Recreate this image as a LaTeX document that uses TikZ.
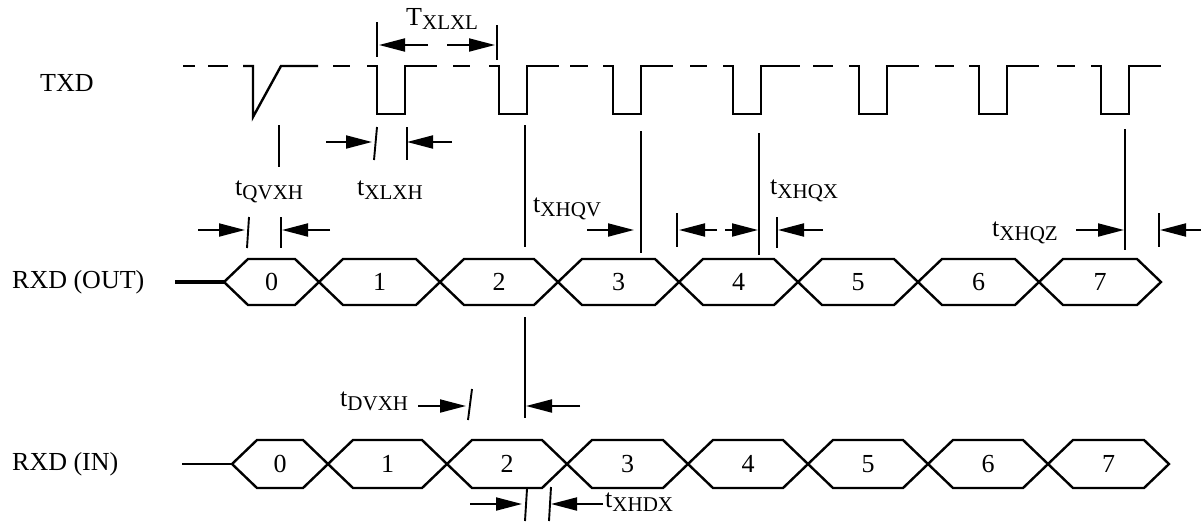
\documentclass[tikz,border=0pt]{standalone}
\usepackage{fontspec}
\setmainfont{Liberation Serif}
\usetikzlibrary{arrows.meta}
\tikzset{
  sig/.style={line width=2.4pt, line join=miter},
  tick/.style={line width=1.9pt},
  meas/.style={line width=1.9pt, -{Triangle[length=26pt,width=13pt]}},
  lbl/.style={inner sep=0pt, font=\fontsize{26}{30}\selectfont},
}
\newcommand{\tsub}[2]{#1\raisebox{-4.5pt}{\fontsize{21}{21}\selectfont #2}}

\begin{document}
\begin{tikzpicture}[x=1pt,y=-1pt]
\useasboundingbox (0,0) rectangle (1201,522);

% Signal names
\node[lbl,anchor=west] (txd) at (40,83) {TXD};
\node[lbl,anchor=west] (rxdout) at (12,282) {RXD (OUT)};
\node[lbl,anchor=west] (rxdin) at (12,464) {RXD (IN)};

% TXD: dashed idle level
\foreach \s/\e in {183/195,208/228,333/350,453/470,570/588,690/707,790/800,813/833,935/954,1057/1075}
  \draw[sig] (\s,66) -- (\e,66);
% TXD: glitch
\draw[sig] (243,66) -- (253,66) -- (253,117) -- (281,66) -- (318,66);
% TXD: clock pulses
\foreach \p in {377,499,613,733,859,979,1101}
  \draw[sig] ({\p-10},66) -- (\p,66) -- (\p,114) -- ({\p+28},114) -- ({\p+28},66) -- ({\p+60},66);

% RXD (OUT) data cells
\draw[line width=3.5pt] (175,282) -- (224,282);
\foreach \a/\b [count=\i from 0] in {224/319,319/440,440/558,558/679,679/798,798/918,918/1039,1039/1161}{
  \draw[sig] (\a,282) -- ({\a+24},259) -- ({\b-24},259) -- (\b,282) -- ({\b-24},305) -- ({\a+24},305) -- cycle;
  \node[lbl] (out\i) at ({(\a+\b)/2},282) {\i};
}

% RXD (IN) data cells
\draw[sig] (182,464) -- (232,464);
\foreach \a/\b [count=\i from 0] in {232/328,328/447,447/567,567/688,688/808,808/928,928/1048,1048/1169}{
  \draw[sig] (\a,464) -- ({\a+25},440) -- ({\b-25},440) -- (\b,464) -- ({\b-25},488) -- ({\a+25},488) -- cycle;
  \node[lbl] (in\i) at ({(\a+\b)/2},464) {\i};
}

% reference lines from TXD edges
\draw[tick] (279,125) -- (279,167);
\draw[tick] (374,160) -- (377,127);
\draw[tick] (407,127) -- (407,160);
\draw[tick] (525,125) -- (525,247);
\draw[tick] (641,131) -- (641,253);
\draw[tick] (759,133) -- (759,255);
\draw[tick] (1125,129) -- (1125,250);
\draw[tick] (525,317) -- (525,418);

% T_XLXL
\draw[tick] (377,22) -- (377,57);
\draw[tick] (497,25) -- (497,60);
\draw[meas] (428,45) -- (379,45);
\draw[meas] (447,45) -- (495,45);
\node[lbl,anchor=base west] (txlxl) at (406,25) {\tsub{T}{XLXL}};

% t_XLXH
\draw[meas] (326,142) -- (372,142);
\draw[meas] (452,142) -- (407,142);
\node[lbl,anchor=base west] (txlxh) at (357,195) {\tsub{t}{XLXH}};

% t_QVXH
\draw[tick] (247,248) -- (249,217);
\draw[tick] (281,217) -- (281,248);
\draw[meas] (198,230) -- (245,230);
\draw[meas] (330,230) -- (282,230);
\node[lbl,anchor=base west] (tqvxh) at (235,195) {\tsub{t}{QVXH}};

% t_XHQV
\draw[meas] (587,230) -- (634,230);
\node[lbl,anchor=base west] (txhqv) at (533,212) {\tsub{t}{XHQV}};

% t_XHQX
\draw[tick] (677,213) -- (677,247);
\draw[tick] (777,217) -- (777,248);
\draw[meas] (717,230) -- (679,230);
\draw[meas] (725,230) -- (758,230);
\draw[meas] (823,230) -- (778,230);
\node[lbl,anchor=base west] (txhqx) at (770,194) {\tsub{t}{XHQX}};

% t_XHQZ
\draw[tick] (1159,213) -- (1159,247);
\draw[meas] (1076,230) -- (1124,230);
\draw[meas] (1201,230) -- (1160,230);
\node[lbl,anchor=base west] (txhqz) at (992,236) {\tsub{t}{XHQZ}};

% t_DVXH
\draw[tick] (468,420) -- (472,389);
\draw[meas] (418,406) -- (466,406);
\draw[meas] (580,406) -- (526,406);
\node[lbl,anchor=base west] (tdvxh) at (340,406) {\tsub{t}{DVXH}};

% t_XHDX
\draw[tick] (525,521) -- (527,489);
\draw[tick] (549,521) -- (551,487);
\draw[meas] (470,504) -- (522,504);
\draw[meas] (603,504) -- (551,504);
\node[lbl,anchor=base west] (txhdx) at (605,507) {\tsub{t}{XHDX}};

\end{tikzpicture}
\end{document}
